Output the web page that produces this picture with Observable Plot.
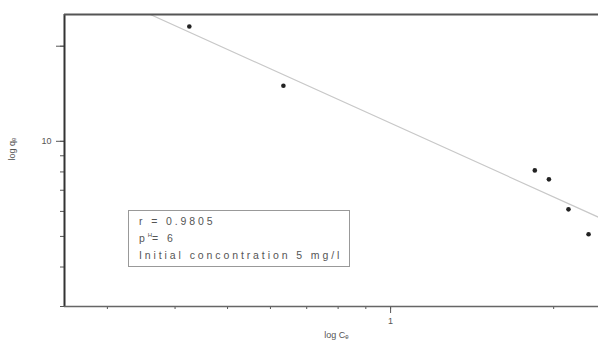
<!DOCTYPE html>
<html><head><meta charset="utf-8">
<script src="https://cdn.jsdelivr.net/npm/d3@7"></script>
<script src="https://cdn.jsdelivr.net/npm/@observablehq/plot@0.6"></script>
<style>
body{margin:0;background:#fff;font-family:"Liberation Sans",Arial,sans-serif;}
#wrap{position:relative;width:598px;height:344px;}
#legend{position:absolute;left:128px;top:210px;width:222px;height:57px;border:1.5px solid #999;box-sizing:border-box;
 font-size:10.5px;letter-spacing:2.9px;color:#555;padding:2px 0 0 10px;line-height:17px;}
#legend div{white-space:nowrap;}
</style></head>
<body><div id="wrap"><div id="legend">
<div>r = 0.9805</div><div>p<sup style="font-size:6px;vertical-align:5px;line-height:0;letter-spacing:0">H</sup>= 6</div><div>Initial concontration 5 mg/l</div>
</div></div>
<script>
const concentration = [0.425, 0.634, 1.846, 1.96, 2.13, 2.32];
const uptake = [23.1, 15.0, 8.09, 7.58, 6.09, 5.08];
const fitC = [0.36, 2.42];
const fitQ = [25.2, 5.75];
const xDomain = [0.25, 2.42];
const yDomain = [3, 25.2];
const xTicks = [0.3, 0.4, 0.5, 0.6, 0.7, 0.8, 0.9, 1, 2];
const yTicks = [3, 4, 5, 6, 7, 8, 9, 10, 20];

const points = concentration.map((c, i) => ({c, q: uptake[i]}));
const fit = fitC.map((c, i) => ({c, q: fitQ[i]}));

const chart = Plot.plot({
  width: 598, height: 344,
  marginLeft: 64, marginTop: 14, marginBottom: 38, marginRight: 0,
  style: {fontFamily: "Liberation Sans, Arial, sans-serif", color: "#555", background: "#fff"},
  x: {type: "log", domain: xDomain},
  y: {type: "log", domain: yDomain},
  marks: [
    Plot.axisX({ticks: xTicks, tickSize: 3, tickPadding: 8, fontSize: 9, tickFormat: d => d === 1 ? "1" : "", color: "#555", label: null}),
    Plot.axisX({ticks: [1], tickSize: 7, tickFormat: () => "", color: "#555", label: null}),
    Plot.axisY({ticks: yTicks, tickSize: 4, tickPadding: 9, fontSize: 9, tickFormat: d => d === 10 ? "10" : "", color: "#555", label: null}),
    Plot.axisY({ticks: [10, 20], tickSize: 8, tickFormat: () => "", color: "#555", label: null}),
    Plot.line(fit, {x: "c", y: "q", stroke: "#c8c8c8", strokeWidth: 1.2, clip: true}),
    Plot.ruleX([xDomain[0]], {stroke: "#333", strokeWidth: 2}),
    Plot.ruleY([yDomain[1]], {stroke: "#555", strokeWidth: 2}),
    Plot.ruleY([yDomain[0]], {stroke: "#666", strokeWidth: 1.5}),
    Plot.dot(points, {x: "c", y: "q", r: 2.3, fill: "#222", stroke: "none"}),
    Plot.text(["log Cₑ"], {frameAnchor: "bottom", dy: 31, dx: 5, fontSize: 9, fill: "#555"}),
    Plot.text(["log qₑ"], {frameAnchor: "left", dx: -52, rotate: -90, fontSize: 9, fill: "#555"})
  ]
});
document.getElementById("wrap").prepend(chart);
</script></body></html>
